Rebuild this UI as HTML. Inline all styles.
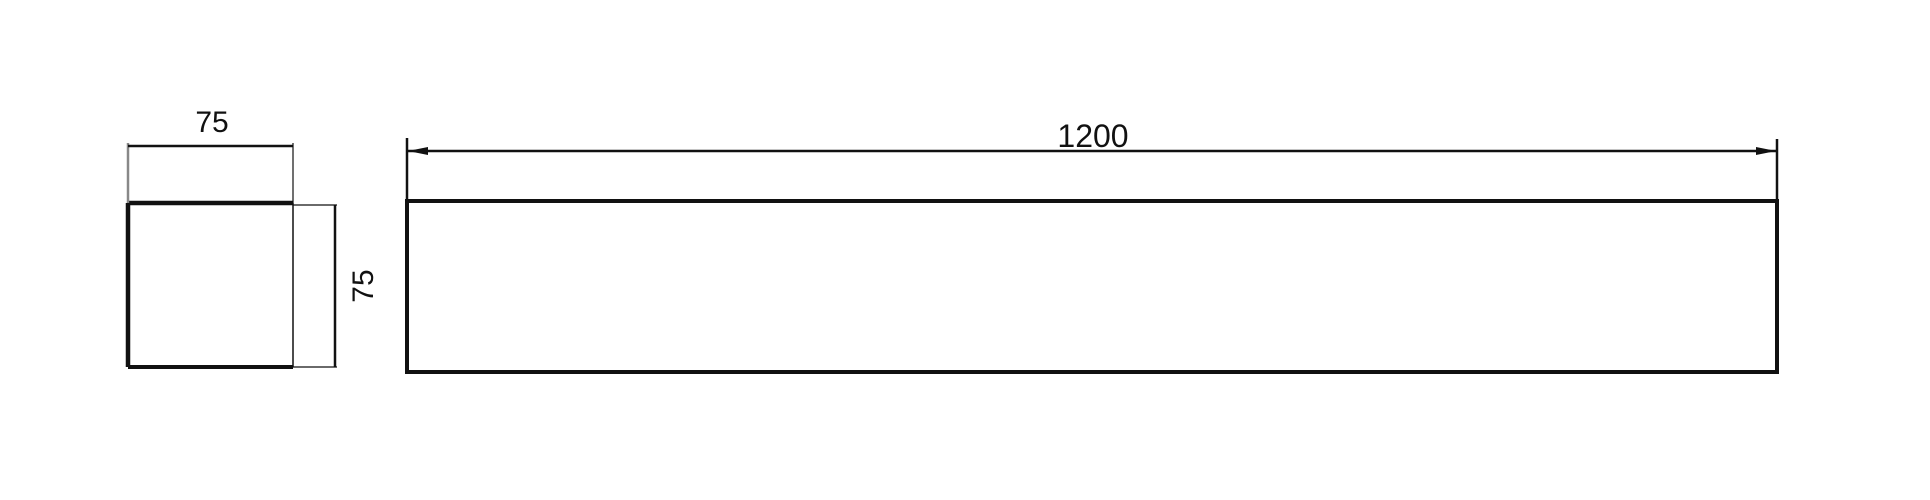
<!DOCTYPE html>
<html><head><style>html,body{margin:0;padding:0;background:#fff;}svg{display:block}</style></head>
<body>
<svg width="1930" height="500" xmlns="http://www.w3.org/2000/svg">
<rect width="1930" height="500" fill="#fff"/>
<g fill="none" stroke="#111">
<line x1="128" y1="203" x2="293" y2="203" stroke-width="4.5"/>
<line x1="128" y1="367" x2="293" y2="367" stroke-width="4"/>
<line x1="128" y1="203" x2="128" y2="367" stroke-width="4.5"/>
<line x1="293" y1="203" x2="293" y2="367" stroke-width="1.5"/>
<line x1="128" y1="143" x2="128" y2="203" stroke-width="2.5" stroke="#888"/>
<line x1="293" y1="143" x2="293" y2="203" stroke-width="1.2"/>
<line x1="128" y1="146" x2="293" y2="146" stroke-width="2.5"/>
<line x1="293" y1="205" x2="337" y2="205" stroke-width="1.2"/>
<line x1="293" y1="367" x2="337" y2="367" stroke-width="1.2"/>
<line x1="335" y1="205" x2="335" y2="367" stroke-width="2.5"/>
<rect x="407" y="201" width="1370" height="171" stroke-width="4"/>
<line x1="407" y1="138" x2="407" y2="201" stroke-width="2.5"/>
<line x1="1777" y1="139" x2="1777" y2="201" stroke-width="2.5"/>
<line x1="407" y1="151" x2="1777" y2="151" stroke-width="2.5"/>
</g>
<polygon points="408,151 428,147 428,155" fill="#111"/>
<polygon points="1776,151 1756,147 1756,155" fill="#111"/>
<g font-family="Liberation Sans, sans-serif" fill="#111" text-anchor="middle">
<text x="212" y="132" font-size="30">75</text>
<text x="1093" y="147" font-size="32">1200</text>
<text transform="translate(373,286) rotate(-90)" font-size="30">75</text>
</g>
</svg>
</body></html>
